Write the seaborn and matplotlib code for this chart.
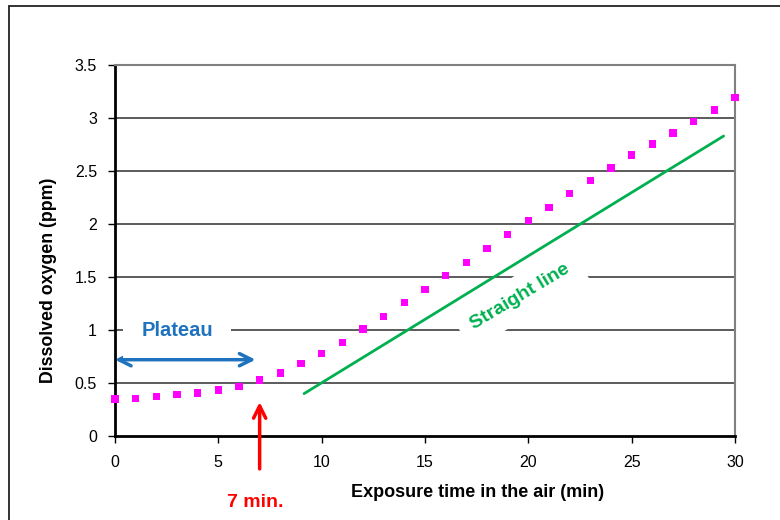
import numpy as np
import pandas as pd
import matplotlib
matplotlib.use("Agg")
import matplotlib.pyplot as plt
import seaborn as sns
from matplotlib.patches import Rectangle

# measured dissolved oxygen, one reading per minute
minutes = list(range(0, 31))
oxygen = [0.35, 0.355, 0.375, 0.39, 0.405, 0.435, 0.47, 0.53, 0.595, 0.685,
          0.78, 0.885, 1.01, 1.13, 1.26, 1.385, 1.515, 1.635, 1.77, 1.90,
          2.035, 2.155, 2.29, 2.41, 2.53, 2.65, 2.755, 2.86, 2.97, 3.075, 3.195]

# guide line drawn beside the linear part
line_x = [9.15, 29.45]
line_y = [0.40, 2.83]

x_ticks = [0, 5, 10, 15, 20, 25, 30]
y_ticks = [0, 0.5, 1, 1.5, 2, 2.5, 3, 3.5]
y_labels = ["0", "0.5", "1", "1.5", "2", "2.5", "3", "3.5"]

df = pd.DataFrame({"minute": minutes, "oxygen": oxygen})
guide = pd.DataFrame({"x": line_x, "y": line_y})

sns.set_style("white")
plt.rcParams["font.family"] = ["Liberation Sans", "DejaVu Sans"]
plt.rcParams["text.color"] = "black"
plt.rcParams["axes.labelcolor"] = "black"
plt.rcParams["xtick.color"] = "black"
plt.rcParams["ytick.color"] = "black"

fig = plt.figure(figsize=(7.8, 5.2), dpi=100)
ax = fig.add_axes([0.1474, 0.1615, 0.7949, 0.7135])

# outer frame of the slide
fig.patches.append(Rectangle((0.011, -0.05), 1.2, 1.039, transform=fig.transFigure,
                             fill=False, edgecolor="#222222", linewidth=1.3))

for yv in y_ticks[1:-1]:
    ax.axhline(yv, color="#404040", linewidth=1.2, zorder=1)

sns.scatterplot(data=df, x="minute", y="oxygen", ax=ax, marker="s", s=28,
                color="#FF00FF", edgecolor="none", zorder=4, clip_on=False)
sns.lineplot(data=guide, x="x", y="y", ax=ax, color="#00B050", linewidth=2,
             zorder=3)

ax.set_xlim(0, 30)
ax.set_ylim(0, 3.5)
ax.set_xticks(x_ticks)
ax.set_yticks(y_ticks)
ax.set_yticklabels(y_labels)
ax.tick_params(axis="both", direction="out", length=5, width=1, color="black",
               labelsize=11.5, bottom=True, left=True)
ax.tick_params(axis="x", pad=9)
ax.tick_params(axis="y", pad=8)

for side in ["left", "bottom"]:
    ax.spines[side].set_color("black")
    ax.spines[side].set_linewidth(2)
for side in ["top", "right"]:
    ax.spines[side].set_color("#808080")
    ax.spines[side].set_linewidth(1.5)

ax.set_xlabel("Exposure time in the air (min)", fontsize=13, fontweight="bold")
ax.set_ylabel("Dissolved oxygen (ppm)", fontsize=12.8, fontweight="bold")
ax.xaxis.set_label_coords(0.585, -0.128)
ax.yaxis.set_label_coords(-0.094, 0.42)

# plateau annotation
ax.annotate("", xy=(0, 0.72), xytext=(6.8, 0.72),
            arrowprops=dict(arrowstyle="<->", color="#1F72BE", lw=2.5,
                            mutation_scale=22, shrinkA=0, shrinkB=0),
            zorder=5, annotation_clip=False)
ax.text(3.0, 1.0, "Plateau", color="#1F72BE", fontsize=14.5, fontweight="bold",
        ha="center", va="center", zorder=5,
        bbox=dict(facecolor="white", edgecolor="none", pad=13))

# straight line label
ax.text(19.6, 1.31, "Straight line", color="#00B050", fontsize=14,
        fontweight="bold", ha="center", va="center", rotation=31,
        rotation_mode="anchor", zorder=5,
        bbox=dict(facecolor="white", edgecolor="none", pad=9))

# 7 minute marker
ax.annotate("", xy=(7, 0.32), xytext=(7, -0.31),
            arrowprops=dict(arrowstyle="->", color="#FF0000", lw=2.5,
                            mutation_scale=22, shrinkA=0, shrinkB=0),
            zorder=5, annotation_clip=False)
ax.text(6.8, -0.63, "7 min.", color="#FF0000", fontsize=14, fontweight="bold",
        ha="center", va="center", clip_on=False)

fig.savefig("out.png", dpi=100)
